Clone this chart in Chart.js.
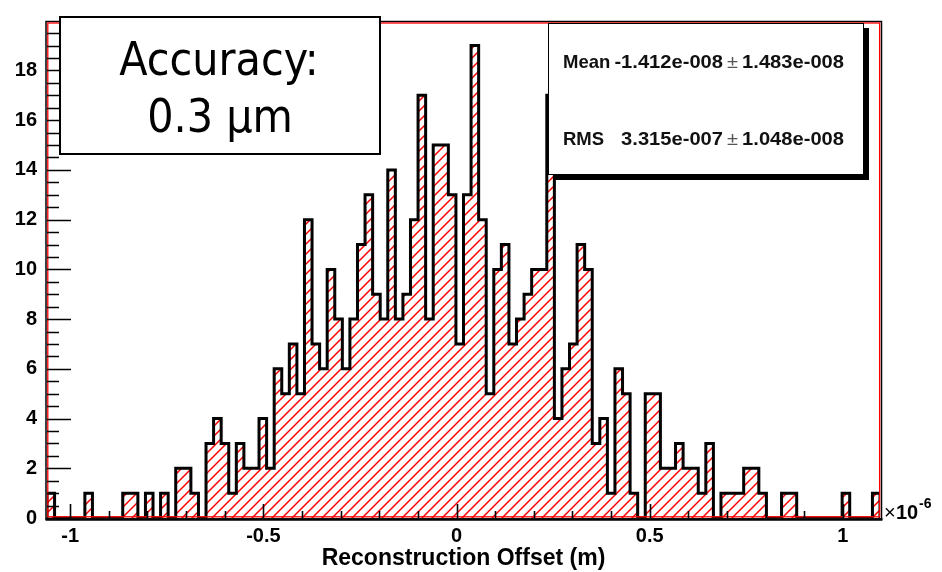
<!DOCTYPE html>
<html>
<head>
<meta charset="utf-8">
<script src="https://cdn.jsdelivr.net/npm/chart.js@4.4.1/dist/chart.umd.min.js"></script>
<style>
  html, body { margin: 0; padding: 0; background: #fff; }
  #wrap { width: 942px; height: 572px; }
</style>
</head>
<body>
<div id="wrap"><canvas id="hist" width="942" height="572"></canvas></div>
<script>
// histogram binning (x in units of 1e-6 m)
const xMin = -1.06;
const xMax = 1.096;
const nBins = 110;

// entries per bin
const counts = [
  1, 0, 0, 0, 0, 1, 0, 0, 0, 0,
  1, 1, 0, 1, 0, 1, 0, 2, 2, 1,
  0, 3, 4, 3, 1, 3, 2, 2, 4, 2,
  6, 5, 7, 5, 12, 7, 6, 10, 8, 6,
  8, 11, 13, 9, 8, 14, 8, 9, 12, 17,
  8, 15, 15, 13, 7, 13, 19, 12, 5, 10,
  11, 7, 8, 9, 10, 10, 17, 4, 6, 7,
  11, 10, 3, 4, 1, 6, 5, 1, 0, 5,
  5, 2, 2, 3, 2, 2, 1, 3, 0, 1,
  1, 1, 2, 2, 1, 0, 0, 1, 1, 0,
  0, 0, 0, 0, 0, 1, 0, 0, 0, 1
];

const xTicks = [-1, -0.5, 0, 0.5, 1];
const yTicks = [0, 2, 4, 6, 8, 10, 12, 14, 16, 18];
const yMax = 19.95;
const xMinorStep = 0.1;
const yMinorStep = 0.5;

const accuracyLines = ["Accuracy:", "0.3 μm"];
const statNames = ["Mean", "RMS"];
const statValues = ["-1.412e-008", "3.315e-007"];
const statErrors = ["1.483e-008", "1.048e-008"];

const binWidth = (xMax - xMin) / nBins;
const points = [{ x: xMin, y: 0 }];
counts.forEach((c, i) => points.push({ x: xMin + i * binWidth, y: c }));
points.push({ x: xMax, y: 0 });

const canvas = document.getElementById("hist");
const ctx = canvas.getContext("2d");

// red "////" hatch like the ROOT fill style
function makeHatch() {
    const c = document.createElement("canvas");
    c.width = 10;
    c.height = 10;
    const g = c.getContext("2d");
    g.strokeStyle = "#ff0000";
    g.lineWidth = 1.5;
    g.beginPath();
    g.moveTo(0, 10); g.lineTo(10, 0);
    g.moveTo(-5, 5); g.lineTo(5, -5);
    g.moveTo(5, 15); g.lineTo(15, 5);
    g.stroke();
    return ctx.createPattern(c, "repeat");
}

const boldFont = '"Liberation Sans", Arial, Helvetica, sans-serif';

const overlay = {
    id: "overlay",
    afterDatasetsDraw(chart) {
        const { ctx, chartArea: a, scales: { x, y } } = chart;
        ctx.save();

        // frame: black outside, red inside
        ctx.strokeStyle = "#000";
        ctx.lineWidth = 1.5;
        ctx.strokeRect(a.left - 1, a.top - 0.5, a.right - a.left + 2.5, a.bottom - a.top + 1.5);
        ctx.strokeStyle = "#ff0000";
        ctx.lineWidth = 1.3;
        ctx.strokeRect(a.left + 0.8, a.top + 1, a.right - a.left - 1.2, a.bottom - a.top - 2.2);

        ctx.strokeStyle = "#000";
        ctx.lineWidth = 2.5;
        ctx.beginPath();
        ctx.moveTo(a.left - 1.5, a.bottom + 1.5);
        ctx.lineTo(a.right + 2.5, a.bottom + 1.5);
        ctx.stroke();

        // inward ticks
        ctx.lineWidth = 1.6;
        ctx.beginPath();
        for (let v = Math.ceil(xMin / xMinorStep) * xMinorStep; v <= xMax; v += xMinorStep) {
            const px = Math.round(x.getPixelForValue(v)) + 0.5;
            const major = xTicks.some(t => Math.abs(t - v) < 1e-6);
            ctx.moveTo(px, a.bottom);
            ctx.lineTo(px, a.bottom - (major ? 14 : 7));
        }
        for (let v = 0; v <= yMax; v += yMinorStep) {
            const py = Math.round(y.getPixelForValue(v)) + 0.5;
            const major = yTicks.some(t => Math.abs(t - v) < 1e-6);
            ctx.moveTo(a.left, py);
            ctx.lineTo(a.left + (major ? 24 : 12), py);
        }
        ctx.stroke();
        ctx.restore();
    },
    afterDraw(chart) {
        const { ctx, chartArea: a } = chart;
        ctx.save();

        // exponent label
        ctx.fillStyle = "#000";
        ctx.textBaseline = "alphabetic";
        ctx.textAlign = "left";
        ctx.font = "20px " + boldFont;
        ctx.fillText("×", a.right + 4, a.bottom + 1);
        ctx.font = "bold 20px " + boldFont;
        ctx.fillText("10", a.right + 16, a.bottom + 1);
        ctx.font = "bold 14px " + boldFont;
        ctx.fillText("-6", a.right + 39, a.bottom - 10);

        // accuracy box
        ctx.fillStyle = "#fff";
        ctx.fillRect(60, 17, 320, 137);
        ctx.strokeStyle = "#000";
        ctx.lineWidth = 2;
        ctx.strokeRect(60, 17, 320, 137);
        ctx.fillStyle = "#000";
        ctx.textAlign = "center";
        ctx.font = '46px "DejaVu Sans Condensed", "DejaVu Sans", sans-serif';
        ctx.fillText(accuracyLines[0], 219, 75);
        ctx.fillText(accuracyLines[1], 220, 132);

        // stats box with shadow
        ctx.fillStyle = "#000";
        ctx.fillRect(553, 28, 316, 152);
        ctx.fillStyle = "#fff";
        ctx.fillRect(548, 23, 316, 152);
        ctx.strokeStyle = "#000";
        ctx.lineWidth = 1;
        ctx.strokeRect(548.5, 23.5, 315, 151);

        const sx = 1.06;
        const rows = [68, 145];
        rows.forEach((yy, i) => {
            ctx.fillStyle = "#111";
            ctx.font = "bold 18.5px " + boldFont;
            ctx.textAlign = "left";
            ctx.fillText(statNames[i], 563, yy);
            ctx.save();
            ctx.scale(sx, 1);
            ctx.font = "bold 19px " + boldFont;
            ctx.textAlign = "right";
            ctx.fillText(statValues[i], 723 / sx, yy);
            ctx.fillText(statErrors[i], 844 / sx, yy);
            ctx.fillStyle = "#555";
            ctx.font = "19px " + boldFont;
            ctx.textAlign = "center";
            ctx.fillText("±", 732.5 / sx, yy);
            ctx.restore();
        });
        ctx.restore();
    }
};

new Chart(ctx, {
    type: "line",
    data: {
        datasets: [{
            data: points,
            stepped: "before",
            fill: "origin",
            backgroundColor: makeHatch(),
            borderColor: "#000",
            borderWidth: 3,
            borderJoinStyle: "miter",
            pointRadius: 0,
            tension: 0
        }]
    },
    options: {
        responsive: false,
        animation: false,
        events: [],
        layout: { padding: { left: 0, right: 62, top: 10, bottom: 0 } },
        plugins: {
            legend: { display: false },
            tooltip: { enabled: false },
            colors: { enabled: false }
        },
        scales: {
            x: {
                type: "linear",
                min: xMin,
                max: xMax,
                afterFit: s => { s.height = 54; },
                afterBuildTicks: s => { s.ticks = xTicks.map(v => ({ value: v })); },
                grid: { display: false, drawTicks: false },
                border: { display: false },
                ticks: {
                    color: "#000",
                    padding: 6,
                    maxRotation: 0,
                    autoSkip: false,
                    font: { family: boldFont, size: 20, weight: "bold" },
                    callback: v => String(v)
                },
                title: {
                    display: true,
                    text: "Reconstruction Offset (m)",
                    color: "#000",
                    padding: { top: 0, bottom: 0 },
                    font: { family: boldFont, size: 23, weight: "bold" }
                }
            },
            y: {
                min: 0,
                max: yMax,
                afterFit: s => { s.width = 47; },
                afterBuildTicks: s => { s.ticks = yTicks.map(v => ({ value: v })); },
                grid: { display: false, drawTicks: false },
                border: { display: false },
                ticks: {
                    color: "#000",
                    padding: 10,
                    autoSkip: false,
                    font: { family: boldFont, size: 20, weight: "bold" },
                    callback: v => String(v)
                }
            }
        }
    },
    plugins: [overlay]
});
</script>
</body>
</html>
